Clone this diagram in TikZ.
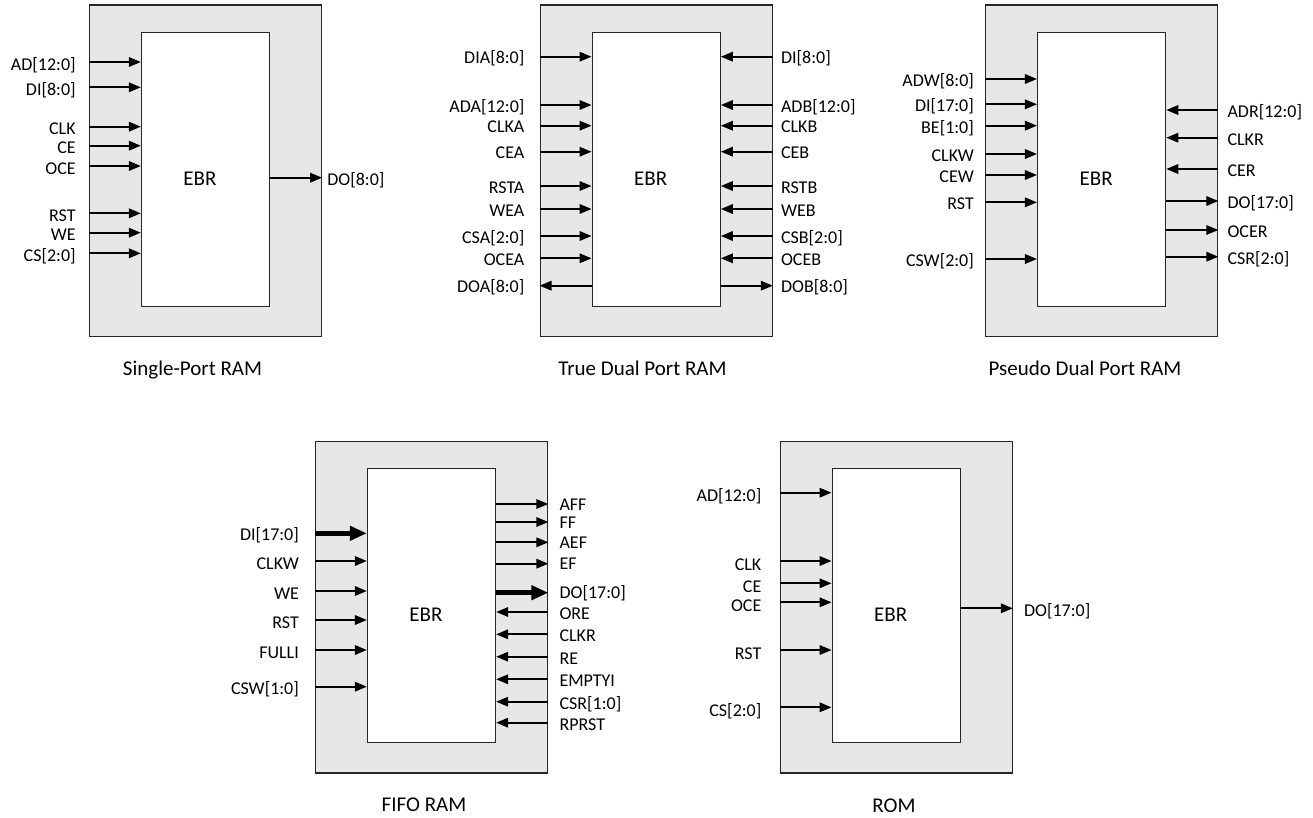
\documentclass[tikz,border=0pt]{standalone}
\usepackage{fontspec}
\setmainfont{Carlito}
\usetikzlibrary{arrows.meta,positioning,calc}
\definecolor{ebrgray}{HTML}{E6E7E8}

\begin{document}
\begin{tikzpicture}[x=1pt,y=-1pt]
\tikzstyle{shell}=[draw=black!85, line width=1.3pt, fill=ebrgray, minimum width=232pt, minimum height=331.5pt, inner sep=0pt]
\tikzstyle{core}=[draw=black!85, line width=1.3pt, fill=white, minimum width=128pt, minimum height=274pt, inner sep=0pt]
\tikzstyle{sig}=[-{Triangle[length=12pt,width=9.5pt]}, line width=1.8pt]
\tikzstyle{bus}=[-{Triangle[length=17pt,width=14pt]}, line width=5.5pt]
\tikzstyle{lbl}=[font=\fontsize{18}{21}\selectfont, inner sep=0pt]
\tikzstyle{ebr}=[font=\fontsize{21}{25}\selectfont, inner sep=0pt, anchor=base]
\tikzstyle{blocktitle}=[font=\fontsize{21}{25}\selectfont, inner sep=0pt, anchor=base]
\useasboundingbox (0,0) rectangle (1313,817);

% single-port RAM
\node[shell] (sp) at (205.5,170.8) {};
\node[core] (spm) at (205.5,169.7) {};
\node[ebr] (spe) at ($(spm.center)+(-5.5,15.5)$) {EBR};
\foreach \lab/\y [count=\i] in {AD[12:0]/62, DI[8:0]/87.3, CLK/126.7, CE/145.7, OCE/166, RST/213.3, WE/232.7, CS[2:0]/253.3}
   {
    \coordinate (spa\i) at (sp.west |- 0,\y);
    \draw[sig] (spa\i) -- (spm.west |- spa\i);
    \node[lbl, anchor=base east] (spl\i) at ([xshift=-13pt,yshift=-8pt]spa\i) {\lab};
   }
\coordinate (spb1) at (sp.east |- 0,177.7);
\draw[sig] (spm.east |- spb1) -- (spb1);
\node[lbl, anchor=base west] (spr1) at ([xshift=5pt,yshift=-8pt]spb1) {DO[8:0]};
\node[blocktitle] (spt) at (192.5,375) {Single-Port RAM};

% true dual port RAM
\node[shell] (tdp) at (656.2,170.8) {};
\node[core] (tdpm) at (656.2,169.7) {};
\node[ebr] (tdpe) at ($(tdpm.center)+(-5.5,15.5)$) {EBR};
\foreach \lab/\y [count=\i] in {DIA[8:0]/56.7, ADA[12:0]/105, CLKA/125.7, CEA/151.7, RSTA/186, WEA/209, CSA[2:0]/236, OCEA/258.3}
   {
    \coordinate (tdpa\i) at (tdp.west |- 0,\y);
    \draw[sig] (tdpa\i) -- (tdpm.west |- tdpa\i);
    \node[lbl, anchor=base east] (tdpl\i) at ([xshift=-15pt,yshift=-7pt]tdpa\i) {\lab};
   }
\coordinate (tdpa9) at (tdp.west |- 0,285.7);
\draw[sig] (tdpm.west |- tdpa9) -- (tdpa9);
\node[lbl, anchor=base east] (tdpl9) at ([xshift=-15pt,yshift=-7pt]tdpa9) {DOA[8:0]};
\foreach \lab/\y [count=\i] in {DI[8:0]/56.7, ADB[12:0]/105, CLKB/125.7, CEB/151.7, RSTB/186, WEB/209, CSB[2:0]/236, OCEB/258.3}
   {
    \coordinate (tdpb\i) at (tdp.east |- 0,\y);
    \draw[sig] (tdpb\i) -- (tdpm.east |- tdpb\i);
    \node[lbl, anchor=base west] (tdpr\i) at ([xshift=8pt,yshift=-7pt]tdpb\i) {\lab};
   }
\coordinate (tdpb9) at (tdp.east |- 0,285.7);
\draw[sig] (tdpm.east |- tdpb9) -- (tdpb9);
\node[lbl, anchor=base west] (tdpr9) at ([xshift=8pt,yshift=-7pt]tdpb9) {DOB[8:0]};
\node[blocktitle] (tdpt) at (642.5,375) {True Dual Port RAM};

% pseudo dual port RAM
\node[shell] (pdp) at (1101.7,170.8) {};
\node[core] (pdpm) at (1101.6,169.7) {};
\node[ebr] (pdpe) at ($(pdpm.center)+(-5.5,15.5)$) {EBR};
\foreach \lab/\y [count=\i] in {ADW[8:0]/79, DI[17:0]/104.3, BE[1:0]/125.7, CLKW/154, CEW/175, RST/202.3, CSW[2:0]/259}
   {
    \coordinate (pdpa\i) at (pdp.west |- 0,\y);
    \draw[sig] (pdpa\i) -- (pdpm.west |- pdpa\i);
    \node[lbl, anchor=base east] (pdpl\i) at ([xshift=-11pt,yshift=-7.5pt]pdpa\i) {\lab};
   }
\foreach \lab/\y [count=\i] in {ADR[12:0]/110, CLKR/137.7, CER/169}
   {
    \coordinate (pdpb\i) at (pdp.east |- 0,\y);
    \draw[sig] (pdpb\i) -- (pdpm.east |- pdpb\i);
    \node[lbl, anchor=base west] (pdpr\i) at ([xshift=9pt,yshift=-7.5pt]pdpb\i) {\lab};
   }
\foreach \lab/\y [count=\i] in {DO[17:0]/201, OCER/230, CSR[2:0]/256.7}
   {
    \coordinate (pdpc\i) at (pdp.east |- 0,\y);
    \draw[sig] (pdpm.east |- pdpc\i) -- (pdpc\i);
    \node[lbl, anchor=base west] (pdpo\i) at ([xshift=9pt,yshift=-7.5pt]pdpc\i) {\lab};
   }
\node[blocktitle] (pdpt) at (1085,375) {Pseudo Dual Port RAM};

% FIFO RAM
\node[shell] (ff) at (431.7,607.2) {};
\node[core] (ffm) at (431.5,605.5) {};
\node[ebr] (ffe) at ($(ffm.center)+(-5.5,15.5)$) {EBR};
\coordinate (ffa0) at (ff.west |- 0,533.3);
\draw[bus] (ffa0) -- (ffm.west |- ffa0);
\node[lbl, anchor=base east] (ffl0) at ([xshift=-16pt,yshift=-7pt]ffa0) {DI[17:0]};
\foreach \lab/\y [count=\i] in {CLKW/561, WE/591, RST/620, FULLI/650, CSW[1:0]/686.7}
   {
    \coordinate (ffa\i) at (ff.west |- 0,\y);
    \draw[sig] (ffa\i) -- (ffm.west |- ffa\i);
    \node[lbl, anchor=base east] (ffl\i) at ([xshift=-16pt,yshift=-8pt]ffa\i) {\lab};
   }
\foreach \lab/\y [count=\i] in {AFF/504, FF/522, AEF/542.3, EF/563.7}
   {
    \coordinate (ffc\i) at (ff.east |- 0,\y);
    \draw[sig] (ffm.east |- ffc\i) -- (ffc\i);
    \node[lbl, anchor=base west] (ffo\i) at ([xshift=11pt,yshift=-6pt]ffc\i) {\lab};
   }
\coordinate (ffc5) at (ff.east |- 0,592.7);
\draw[bus] (ffm.east |- ffc5) -- (ffc5);
\node[lbl, anchor=base west] (ffo5) at ([xshift=11pt,yshift=-6pt]ffc5) {DO[17:0]};
\foreach \lab/\y [count=\i] in {ORE/612, CLKR/634.3, RE/656.7, EMPTYI/679.3, CSR[1:0]/701.7, RPRST/722.7}
   {
    \coordinate (ffb\i) at (ff.east |- 0,\y);
    \draw[sig] (ffb\i) -- (ffm.east |- ffb\i);
    \node[lbl, anchor=base west] (ffr\i) at ([xshift=11pt,yshift=-7.5pt]ffb\i) {\lab};
   }
\node[blocktitle] (fft) at (424,811.5) {FIFO RAM};

% ROM
\node[shell] (rom) at (896.2,607.2) {};
\node[core] (romm) at (896.2,605.5) {};
\node[ebr] (rome) at ($(romm.center)+(-5.5,15.5)$) {EBR};
\foreach \lab/\y [count=\i] in {AD[12:0]/492.7, CLK/561, CE/583.3, OCE/602.3, RST/650, CS[2:0]/707.3}
   {
    \coordinate (roma\i) at (rom.west |- 0,\y);
    \draw[sig] (roma\i) -- (romm.west |- roma\i);
    \node[lbl, anchor=base east] (roml\i) at ([xshift=-18pt,yshift=-9pt]roma\i) {\lab};
   }
\coordinate (romb1) at (rom.east |- 0,608.3);
\draw[sig] (romm.east |- romb1) -- (romb1);
\node[lbl, anchor=base west] (romr1) at ([xshift=11pt,yshift=-8pt]romb1) {DO[17:0]};
\node[blocktitle] (romt) at (894,812) {ROM};
\end{tikzpicture}
\end{document}
